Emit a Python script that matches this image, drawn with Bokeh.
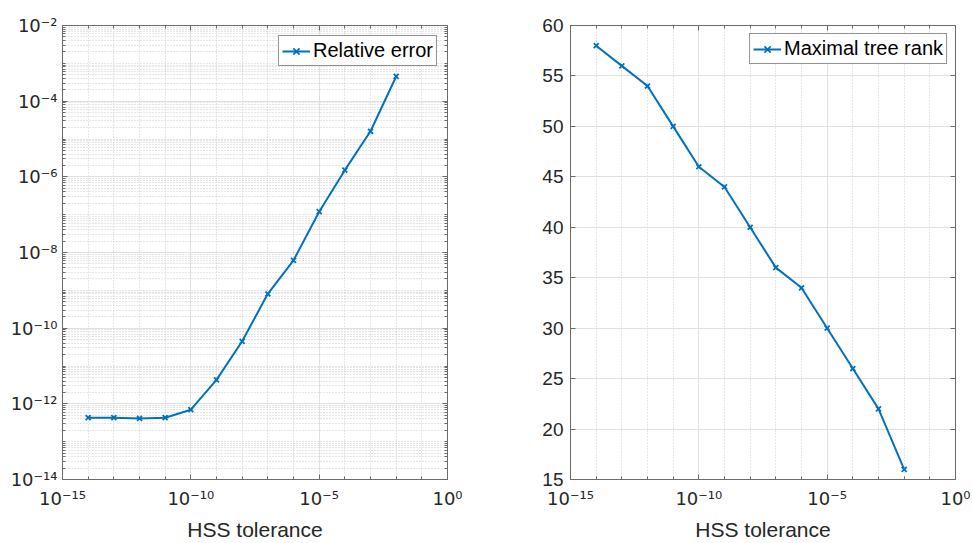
from bokeh.plotting import figure
from bokeh.layouts import row
from bokeh.models import (FixedTicker, LogAxis, LinearAxis, CustomJSTickFormatter,
                          Range1d)
from bokeh.embed import file_html
from bokeh.resources import INLINE

# ---------------- data ----------------
hss_tol = [1e-14, 1e-13, 1e-12, 1e-11, 1e-10, 1e-9, 1e-8, 1e-7,
           1e-6, 1e-5, 1e-4, 1e-3, 1e-2]
relative_error = [4.3e-13, 4.3e-13, 4.1e-13, 4.3e-13, 7.0e-13, 4.3e-12,
                  4.5e-11, 8.1e-10, 6.2e-9, 1.2e-7, 1.5e-6, 1.6e-5, 4.5e-4]
max_tree_rank = [58, 56, 54, 50, 46, 44, 40, 36, 34, 30, 26, 22, 16]

x_major_exp = [-15, -10, -5, 0]
x_minor_exp = [e for e in range(-15, 1) if e not in x_major_exp]
left_y_major_exp = [-14, -12, -10, -8, -6, -4, -2]
right_y_ticks = [15, 20, 25, 30, 35, 40, 45, 50, 55, 60]

# ---------------- style ----------------
FONT = "Liberation Sans"
POW_FONT = "DejaVu Sans"
TXT = "#262626"
AX = "#6a6a6a"
BLUE = "#0072BD"
MAJ_GRID = "#e0e0e0"
MIN_GRID = "#cccccc"
TICK_FS = "19px"
POW_FS = "18px"

sup_fmt = CustomJSTickFormatter(code="""
const sup = {'-':'\u207b','0':'\u2070','1':'\u00b9','2':'\u00b2','3':'\u00b3','4':'\u2074',
             '5':'\u2075','6':'\u2076','7':'\u2077','8':'\u2078','9':'\u2079'};
const e = Math.round(Math.log10(tick));
return '10' + String(e).split('').map(c => sup[c]).join('');
""")


def blank():
    return CustomJSTickFormatter(code="return '';")


x_major = [10.0 ** e for e in x_major_exp]
x_minor = [10.0 ** e for e in x_minor_exp]
ly_major = [10.0 ** e for e in left_y_major_exp]
ly_minor = [m * 10.0 ** e for e in range(-14, -2) for m in range(1, 10)
            if not (m == 1 and e in left_y_major_exp)]


def style_axis(ax, fs=TICK_FS, font=FONT):
    ax.major_label_text_font = font
    ax.major_label_text_font_size = fs
    ax.major_label_text_color = TXT
    ax.axis_line_color = AX
    ax.major_tick_line_color = AX
    ax.minor_tick_line_color = AX
    ax.major_tick_in = 5
    ax.major_tick_out = 0
    ax.minor_tick_in = 3
    ax.minor_tick_out = 0
    ax.axis_label_text_font = FONT
    ax.axis_label_text_font_size = "21px"
    ax.axis_label_text_font_style = "normal"
    ax.axis_label_text_color = TXT


def make_fig(y_log, min_left, min_right, y_range):
    p = figure(x_axis_type="log", y_axis_type="log" if y_log else "linear",
               frame_width=385, frame_height=454,
               min_border_left=min_left, min_border_right=min_right,
               min_border_top=25, min_border_bottom=64,
               x_range=Range1d(1e-15, 1), y_range=y_range,
               output_backend="svg", toolbar_location=None)
    p.outline_line_color = AX
    p.background_fill_color = "white"
    p.border_fill_color = "white"
    return p


# ---------------- left plot ----------------
p1 = make_fig(True, 62, 39, Range1d(1e-14, 1e-2))
p1.xaxis.ticker = FixedTicker(ticks=x_major, minor_ticks=x_minor)
p1.yaxis.ticker = FixedTicker(ticks=ly_major, minor_ticks=ly_minor)
p1.xaxis.formatter = sup_fmt
p1.yaxis.formatter = sup_fmt
style_axis(p1.xaxis[0], POW_FS, POW_FONT)
style_axis(p1.yaxis[0], POW_FS, POW_FONT)
p1.xaxis.axis_label = "HSS tolerance"
p1.xaxis.major_label_standoff = 8
p1.xaxis.axis_label_standoff = 6
p1.yaxis.major_label_standoff = 5

top1 = LogAxis(ticker=FixedTicker(ticks=x_major, minor_ticks=x_minor), formatter=blank(),
               major_label_standoff=0)
right1 = LogAxis(ticker=FixedTicker(ticks=ly_major, minor_ticks=ly_minor), formatter=blank(),
                 major_label_standoff=0)
style_axis(top1)
style_axis(right1)
p1.add_layout(top1, "above")
p1.add_layout(right1, "right")

for g in p1.grid:
    g.grid_line_color = MAJ_GRID
    g.minor_grid_line_color = MIN_GRID
    g.minor_grid_line_dash = "1 2"

p1.line(hss_tol, relative_error, line_color=BLUE, line_width=2, legend_label="Relative error")
p1.scatter(hss_tol, relative_error, marker="x", size=7, line_color=BLUE, line_width=1.8,
           legend_label="Relative error")

# ---------------- right plot ----------------
p2 = make_fig(False, 84, 18, Range1d(15, 60))
p2.xaxis.ticker = FixedTicker(ticks=x_major, minor_ticks=x_minor)
p2.yaxis.ticker = FixedTicker(ticks=right_y_ticks)
p2.xaxis.formatter = sup_fmt
style_axis(p2.xaxis[0], POW_FS, POW_FONT)
style_axis(p2.yaxis[0])
p2.xaxis.axis_label = "HSS tolerance"
p2.xaxis.major_label_standoff = 8
p2.xaxis.axis_label_standoff = 6
p2.yaxis.major_label_standoff = 7
p2.yaxis.minor_tick_in = 0

top2 = LogAxis(ticker=FixedTicker(ticks=x_major, minor_ticks=x_minor), formatter=blank(),
               major_label_standoff=0)
right2 = LinearAxis(ticker=FixedTicker(ticks=right_y_ticks), formatter=blank(),
                    major_label_standoff=0)
style_axis(top2)
style_axis(right2)
right2.minor_tick_in = 0
p2.add_layout(top2, "above")
p2.add_layout(right2, "right")

p2.xgrid.grid_line_color = MAJ_GRID
p2.xgrid.minor_grid_line_color = MIN_GRID
p2.xgrid.minor_grid_line_dash = "1 2"
p2.ygrid.grid_line_color = MAJ_GRID

p2.line(hss_tol, max_tree_rank, line_color=BLUE, line_width=2, legend_label="Maximal tree rank")
p2.scatter(hss_tol, max_tree_rank, marker="x", size=7, line_color=BLUE, line_width=1.8,
           legend_label="Maximal tree rank")

for p, m in ((p1, 10), (p2, 8)):
    lg = p.legend[0]
    lg.location = "top_right"
    lg.margin = m
    lg.padding = 3
    lg.spacing = 0
    lg.glyph_width = 28
    lg.glyph_height = 22
    lg.label_height = 22
    lg.label_standoff = 3
    lg.label_text_font = FONT
    lg.label_text_font_size = "20px"
    lg.label_text_color = "black"
    lg.border_line_color = "#262626"
    lg.border_line_width = 1
    lg.background_fill_color = "white"
    lg.background_fill_alpha = 1.0

layout = row(p1, p2)
open("out.html", "w").write(file_html(layout, INLINE))
